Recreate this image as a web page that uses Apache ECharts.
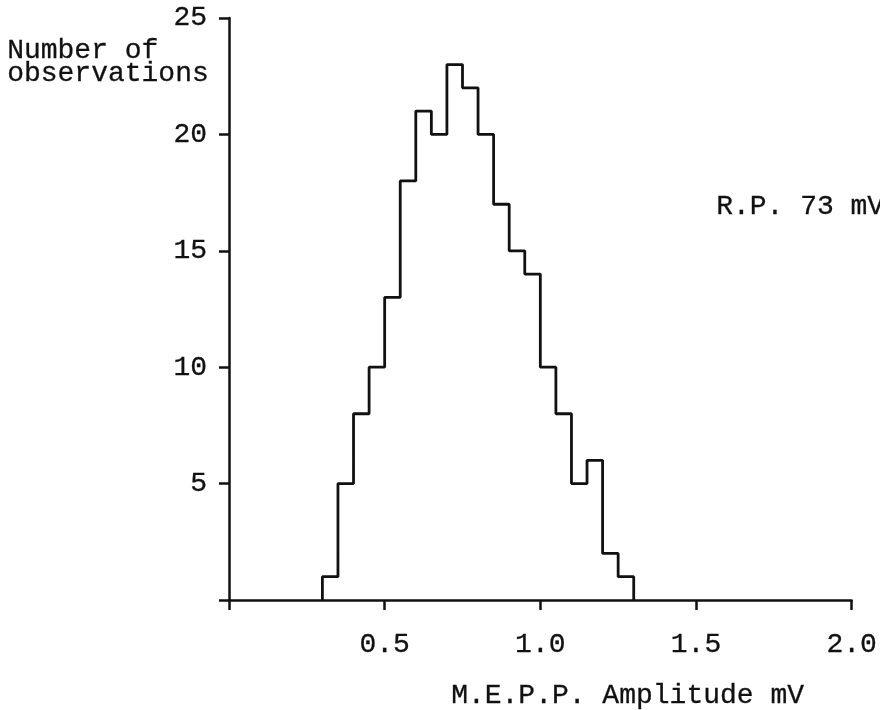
<!DOCTYPE html>
<html>
<head>
<meta charset="utf-8">
<script src="https://cdn.jsdelivr.net/npm/echarts@6/dist/echarts.min.js"></script>
<style>
  html, body { margin: 0; padding: 0; background: #fff; }
  #chart { width: 880px; height: 710px; }
</style>
</head>
<body>
<div id="chart"></div>
<script>
// Histogram of M.E.P.P. amplitudes (bin width 0.05 mV)
var binLeftEdges = [0.30, 0.35, 0.40, 0.45, 0.50, 0.55, 0.60, 0.65, 0.70, 0.75,
                    0.80, 0.85, 0.90, 0.95, 1.00, 1.05, 1.10, 1.15, 1.20, 1.25];
var binRightEnd = 1.30;
var counts = [1, 5, 8, 10, 13, 18, 21, 20, 23, 22,
              20, 17, 15, 14, 10, 8, 5, 6, 2, 1];
var xTickLabels = ['', '0.5', '1.0', '1.5', '2.0'];
var yTickLabels = ['', '5', '10', '15', '20', '25'];
var yTitleLines = ['Number of', 'observations'];
var xTitle = 'M.E.P.P. Amplitude mV';
var noteText = 'R.P. 73 mV';

var FONT = '"Liberation Mono", "Courier New", monospace';
var INK = '#111';

// step outline points: start at baseline, then each bin top, close at baseline
var stepPoints = [[binLeftEdges[0], 0]];
for (var i = 0; i < counts.length; i++) {
  stepPoints.push([binLeftEdges[i], counts[i]]);
}
stepPoints.push([binRightEnd, counts[counts.length - 1]]);
stepPoints.push([binRightEnd, 0]);

function txt(left, top, s) {
  return {
    type: 'text', left: left, top: top,
    style: { text: s, font: '28px ' + FONT, fill: INK, stroke: INK, lineWidth: 0.3 }
  };
}

var chart = echarts.init(document.getElementById('chart'), null, { renderer: 'canvas' });
chart.setOption({
  animation: false,
  backgroundColor: '#fff',
  grid: { left: 229, right: 25, top: 18, bottom: 110, containLabel: false },
  xAxis: {
    type: 'value', min: 0, max: 2.0, interval: 0.5,
    axisLine: { show: true, lineStyle: { color: INK, width: 2.5 } },
    axisTick: { show: true, length: 10, lineStyle: { color: INK, width: 2.5 } },
    splitLine: { show: false },
    axisLabel: {
      margin: 31, color: INK, fontFamily: FONT, fontSize: 28,
      textBorderColor: INK, textBorderWidth: 0.3,
      formatter: function (v) { return xTickLabels[Math.round(v / 0.5)]; }
    }
  },
  yAxis: {
    type: 'value', min: 0, max: 25, interval: 5,
    axisLine: { show: true, lineStyle: { color: INK, width: 2.5 } },
    axisTick: { show: true, length: 10, lineStyle: { color: INK, width: 2.5 } },
    splitLine: { show: false },
    axisLabel: {
      margin: 22, color: INK, fontFamily: FONT, fontSize: 28,
      textBorderColor: INK, textBorderWidth: 0.3,
      formatter: function (v) { return yTickLabels[Math.round(v / 5)]; }
    }
  },
  series: [{
    type: 'line',
    step: 'end',
    data: stepPoints,
    symbol: 'none',
    lineStyle: { color: INK, width: 2.8 },
    z: 3
  }],
  graphic: [
    txt(7, 36, yTitleLines[0]),
    txt(7, 59, yTitleLines[1]),
    txt(716, 192, noteText),
    txt(451, 681, xTitle)
  ]
});
</script>
</body>
</html>
